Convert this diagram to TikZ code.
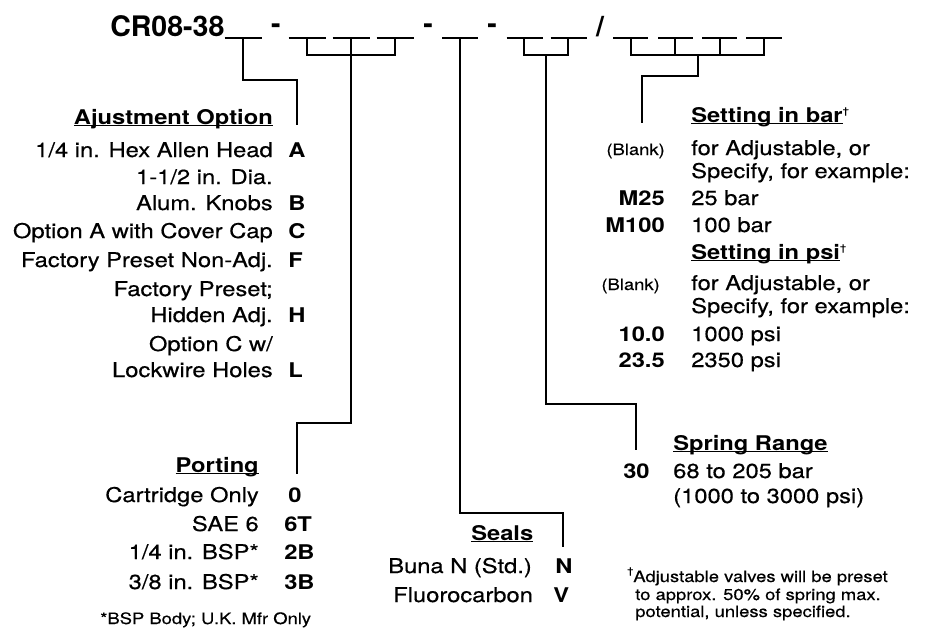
\documentclass[tikz,border=0pt]{standalone}
\usepackage{fontspec}
\usepackage{tikz}
\newfontfamily\hv{TeX Gyre Heros}[FakeStretch=1.17,UprightFeatures={FakeBold=0.4}]
\newfontfamily\hvtitle{TeX Gyre Heros}[FakeStretch=1.01]
\newcommand{\hdr}[1]{\setbox0\hbox{\bfseries #1}\rlap{\rule[-1.6pt]{\wd0}{1pt}}\box0}
\newcommand{\dg}{\raisebox{6pt}{\fontsize{7}{7}\selectfont\textdagger}}

\begin{document}
\begin{tikzpicture}[x=0.75pt,y=0.75pt,yscale=-1,xscale=1,
  txt/.style={inner sep=0pt,font=\hv\fontsize{15.2}{17}\selectfont},
  code/.style={inner sep=0pt,font=\hv\bfseries\fontsize{15.2}{17}\selectfont},
  small/.style={inner sep=0pt,font=\hv\fontsize{11.8}{13}\selectfont},
  ttl/.style={inner sep=0pt,font=\hvtitle\bfseries\fontsize{21.2}{24}\selectfont},
  blank/.style={line width=1pt},
  lead/.style={line width=0.8pt}]
\useasboundingbox (0,0) rectangle (932,629);

% Title
\draw (110,36) node [ttl,anchor=base west] (model) {CR08-38};
\draw (276,33) node [ttl,anchor=base] (dasha) {-};
\draw (428,33) node [ttl,anchor=base] (dashb) {-};
\draw (492,33) node [ttl,anchor=base] (dashc) {-};
\draw (600,36) node [ttl,anchor=base] (slash) {/};

% Blanks
\coordinate (b1) at (243,38);
\coordinate (b2) at (307,38);
\coordinate (b3) at (351,38);
\coordinate (b4) at (395,38);
\coordinate (b5) at (460,38);
\coordinate (b6) at (524,38);
\coordinate (b7) at (568,38);
\coordinate (b8) at (631,38);
\coordinate (b9) at (675,38);
\coordinate (b10) at (720,38);
\coordinate (b11) at (764,38);
\draw [blank] (224.5,38) -- (261.5,38) ;
\draw [blank] (288.5,38) -- (325.5,38) ;
\draw [blank] (332.5,38) -- (369.5,38) ;
\draw [blank] (376.5,38) -- (413.5,38) ;
\draw [blank] (442,38) -- (478,38) ;
\draw [blank] (506.5,38) -- (543,38) ;
\draw [blank] (550.5,38) -- (587,38) ;
\draw [blank] (613,38) -- (648,38) ;
\draw [blank] (658,38) -- (693,38) ;
\draw [blank] (702,38) -- (737,38) ;
\draw [blank] (746,38) -- (782,38) ;

% End points of the leads
\coordinate (adjend) at (297,125);
\coordinate (portend) at (297,474);
\coordinate (sealend) at (563,547);
\coordinate (sprstem) at (546,55);
\coordinate (sprend) at (636,450);
\coordinate (setstem) at (698,55);
\coordinate (setend) at (642,123);

%Straight Lines
\draw [lead] (b1) -- ++(0,42) -| (adjend) ;
%Straight Lines
\draw [lead] (b2) -- ++(0,17) -| (b4) ;
\draw [lead] (b3) -- ++(0,385) -| (portend) ;
%Straight Lines
\draw [lead] (b5) -- ++(0,475) -| (sealend) ;
%Straight Lines
\draw [lead] (b6) -- ++(0,17) -| (b7) ;
\draw [lead] (sprstem) -- ++(0,349) -| (sprend) ;
%Straight Lines
\draw [lead] (b8) -- ++(0,17) -| (b11) ;
\draw [lead] (b9) -- ++(0,17) ;
\draw [lead] (b10) -- ++(0,17) ;
\draw [lead] (setstem) -- ++(0,21) -| (setend) ;

% Text Node
\draw (273,124) node [txt,anchor=base east] (adjhd) {\hdr{Ajustment Option}};
\draw (273,157) node [txt,anchor=base east] (adja) {1/4 in. Hex Allen Head};
\draw (288,157) node [code,anchor=base west] (codea) {A};
\draw (273,184) node [txt,anchor=base east] (adjb1) {1-1/2 in. Dia.};
\draw (273,210) node [txt,anchor=base east] (adjb2) {Alum. Knobs};
\draw (288,210) node [code,anchor=base west] (codeb) {B};
\draw (273,238) node [txt,anchor=base east] (adjc) {Option A with Cover Cap};
\draw (288,238) node [code,anchor=base west] (codec) {C};
\draw (273,267) node [txt,anchor=base east] (adjf) {Factory Preset Non-Adj.};
\draw (288,267) node [code,anchor=base west] (codef) {F};
\draw (273,296) node [txt,anchor=base east] (adjh1) {Factory Preset;};
\draw (273,322) node [txt,anchor=base east] (adjh2) {Hidden Adj.};
\draw (288,322) node [code,anchor=base west] (codeh) {H};
\draw (273,351) node [txt,anchor=base east] (adjl1) {Option C w/};
\draw (273,377) node [txt,anchor=base east] (adjl2) {Lockwire Holes};
\draw (288,377) node [code,anchor=base west] (codel) {L};

% Text Node
\draw (259,472) node [txt,anchor=base east] (porthd) {\hdr{Porting}};
\draw (259,502) node [txt,anchor=base east] (port0) {Cartridge Only};
\draw (288,502) node [code,anchor=base west] (code0) {0};
\draw (259,531) node [txt,anchor=base east] (port6t) {SAE 6};
\draw (284,531) node [code,anchor=base west] (code6t) {6T};
\draw (259,559) node [txt,anchor=base east] (port2b) {1/4 in. BSP*};
\draw (284,559) node [code,anchor=base west] (code2b) {2B};
\draw (259,589) node [txt,anchor=base east] (port3b) {3/8 in. BSP*};
\draw (284,589) node [code,anchor=base west] (code3b) {3B};
\draw (100,624) node [small,anchor=base west] (portnote) {*BSP Body; U.K. Mfr Only};

% Text Node
\draw (471,540) node [txt,anchor=base west] (sealhd) {\hdr{Seals}};
\draw (388,573) node [txt,anchor=base west] (sealn) {Buna N (Std.)};
\draw (555,573) node [code,anchor=base west] (coden) {N};
\draw (393,602) node [txt,anchor=base west] (sealv) {Fluorocarbon};
\draw (553,602) node [code,anchor=base west] (codev) {V};

% Text Node
\draw (673,450) node [txt,anchor=base west] (sprhd) {\hdr{Spring Range}};
\draw (623,478) node [code,anchor=base west] (code30) {30};
\draw (673,478) node [txt,anchor=base west] (spra) {68 to 205 bar};
\draw (673,503) node [txt,anchor=base west] (sprb) {(1000 to 3000 psi)};

% Text Node
\draw (627,582) node [small,anchor=base west] (notea) {\dg Adjustable valves will be preset};
\draw (635,600) node [small,anchor=base west] (noteb) {to approx. 50\% of spring max.};
\draw (635,617) node [small,anchor=base west] (notec) {potential, unless specified.};

% Text Node
\draw (691,122) node [txt,anchor=base west] (barhd) {\hdr{Setting in bar}\dg};
\draw (665,155) node [small,anchor=base east] (barblank) {(Blank)};
\draw (691,155) node [txt,anchor=base west] (bara1) {for Adjustable, or};
\draw (691,178) node [txt,anchor=base west] (bara2) {Specify, for example:};
\draw (665,205) node [code,anchor=base east] (codem25) {M25};
\draw (691,205) node [txt,anchor=base west] (barb) {25 bar};
\draw (665,232) node [code,anchor=base east] (codem100) {M100};
\draw (691,232) node [txt,anchor=base west] (barc) {100 bar};
\draw (691,259) node [txt,anchor=base west] (psihd) {\hdr{Setting in psi}\dg};
\draw (660,290) node [small,anchor=base east] (psiblank) {(Blank)};
\draw (691,290) node [txt,anchor=base west] (psia1) {for Adjustable, or};
\draw (691,313) node [txt,anchor=base west] (psia2) {Specify, for example:};
\draw (665,341) node [code,anchor=base east] (code100) {10.0};
\draw (691,341) node [txt,anchor=base west] (psib) {1000 psi};
\draw (665,367) node [code,anchor=base east] (code235) {23.5};
\draw (691,367) node [txt,anchor=base west] (psic) {2350 psi};

\end{tikzpicture}
\end{document}
